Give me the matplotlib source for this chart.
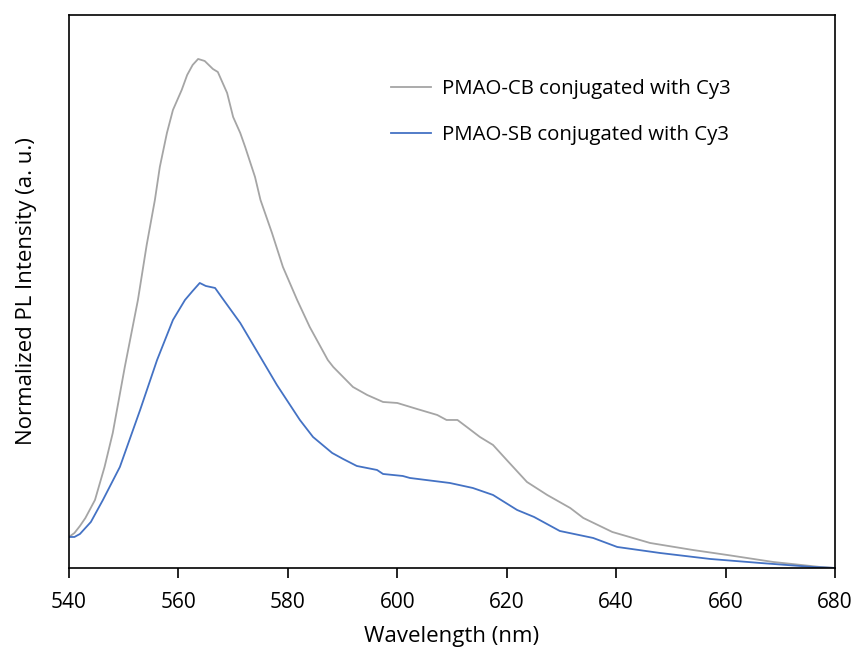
import numpy as np
import matplotlib
matplotlib.use("Agg")
import matplotlib.pyplot as plt

plt.rcParams['font.family'] = ['Open Sans', 'DejaVu Sans']

# wavelength (nm) and normalized intensity (0 = axis bottom, 1 = axis top)
wl_cb = [540, 541, 542, 543, 544.75, 546.5, 548, 550.2, 552.6, 554.2, 555.7, 556.6, 557.9,
         559, 560.6, 561.6, 562.6, 563.6, 564.8, 566.3, 567.2, 568.9, 570, 571.3, 572.2,
         574, 575, 577.1, 579.1, 581.7, 584, 587.3, 588.3, 591.9, 594.5, 597.4, 600,
         603.6, 607.3, 609, 611, 612.7, 615.1, 617.5, 620, 623.7, 627.4, 631.6, 634,
         639.3, 646.2, 654, 660.3, 668.7, 677.3, 680]
cb = [537, 533, 526, 518, 500, 467, 433, 367, 300, 245, 200, 167, 133,
      110, 90, 75, 65, 59, 61, 69, 72, 93, 117, 133, 147,
      177, 200, 233, 267, 300, 327, 360, 367, 387, 395, 402, 403,
      409, 415, 420, 420, 427, 437, 445, 460, 482, 495, 508, 518,
      532, 543, 550, 555, 562, 567, 568]

wl_sb = [540, 541, 542, 544, 546.2, 549.3, 553, 556.1, 559, 561.2, 562.6, 563.9, 565,
         566.7, 568, 571.3, 575.3, 578, 582.2, 584.6, 588.1, 590.1, 592.6, 596.3, 597.4,
         601, 602.3, 609.6, 613.8, 617.5, 621.9, 625, 629.7, 635.8, 640.2, 648, 657.2,
         666.3, 676, 680]
sb = [537, 537, 534, 522, 500, 467, 410, 360, 320, 300, 291, 283, 286,
      288, 298, 323, 360, 385, 420, 437, 453, 459, 466, 470, 474,
      476, 478, 483, 488, 495, 510, 517, 531, 538, 547, 553, 559,
      563, 567, 568]

# convert pixel readings to normalized intensity
cb = [(568 - v) / 553 for v in cb]
sb = [(568 - v) / 553 for v in sb]

fig = plt.figure(figsize=(8.58, 6.48), dpi=100)
ax = fig.add_axes([0.0804, 0.1235, 0.8928, 0.8534])

ax.plot(wl_cb, cb, color='#A5A5A5', lw=1.3, label='PMAO-CB conjugated with Cy3')
ax.plot(wl_sb, sb, color='#4472C4', lw=1.3, label='PMAO-SB conjugated with Cy3')

ax.set_xlim(540, 680)
ax.set_ylim(0, 1)
ax.set_xticks(np.arange(540, 681, 20))
ax.set_yticks([])
ax.tick_params(axis='x', direction='out', length=7, width=1.2, labelsize=15, pad=10)
for s in ax.spines.values():
    s.set_linewidth(1.2)

ax.set_xlabel('Wavelength (nm)', fontsize=16, labelpad=10)
ax.set_ylabel('Normalized PL Intensity (a. u.)', fontsize=16, labelpad=23)

ax.legend(loc='upper left', bbox_to_anchor=(0.397, 0.917), frameon=False, fontsize=14.7,
          handlelength=1.96, handletextpad=0.5, labelspacing=1.25)

fig.savefig('out.png', dpi=100)
